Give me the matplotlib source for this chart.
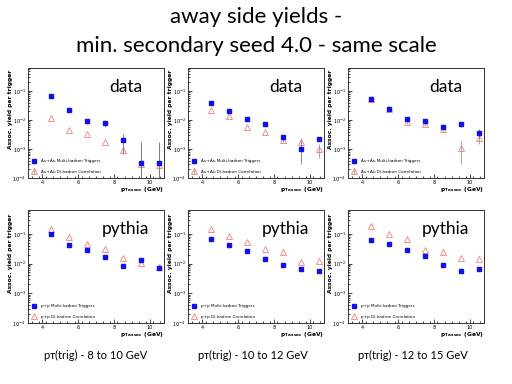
import numpy as np
import matplotlib
matplotlib.use("Agg")
import matplotlib.pyplot as plt
from matplotlib.ticker import LogLocator, NullFormatter, FixedLocator

# ---- data ----
pt_assoc = [4.5, 5.5, 6.5, 7.5, 8.5, 9.5, 10.5]

# top row: Au+Au (data)
auau_multi = [
    [0.066, 0.023, 0.0091, 0.0079, 0.0020, 0.00032, 0.00032],
    [0.040, 0.021, 0.0107, 0.0072, 0.0026, 0.0010, 0.0023],
    [0.052, 0.025, 0.0110, 0.0093, 0.0060, 0.0074, 0.0036],
]
auau_multi_err = [
    [0.0, 0.0, 0.002, 0.002, 0.0013, 0.0014, 0.0014],
    [0.0, 0.0, 0.0, 0.0, 0.0005, 0.0007, 0.0004],
    [0.0, 0.0, 0.0015, 0.0012, 0.001, 0.0015, 0.0012],
]
auau_di = [
    [0.0117, 0.0046, 0.0033, 0.0017, 0.00095, 0.00030, 0.00028],
    [0.023, 0.0135, 0.0058, 0.0039, 0.0020, 0.0017, 0.00098],
    [0.052, 0.025, 0.0083, 0.0072, 0.0048, 0.0011, 0.0025],
]
auau_di_err = [
    [0.0, 0.0, 0.0, 0.0, 0.0002, 0.0014, 0.0014],
    [0.0, 0.0, 0.0, 0.0, 0.0003, 0.0008, 0.0005],
    [0.0, 0.0, 0.001, 0.001, 0.0008, 0.0008, 0.001],
]

# bottom row: p+p (pythia)
pp_multi = [
    [0.095, 0.043, 0.0275, 0.0166, 0.0083, 0.0132, 0.0069],
    [0.069, 0.043, 0.027, 0.0141, 0.0091, 0.0063, 0.0056],
    [0.063, 0.044, 0.029, 0.0178, 0.0091, 0.0056, 0.0066],
]
pp_di = [
    [0.148, 0.079, 0.046, 0.031, 0.0151, 0.0107, 0.0079],
    [0.148, 0.087, 0.051, 0.031, 0.025, 0.0115, 0.0117],
    [0.19, 0.102, 0.066, 0.0275, 0.024, 0.0148, 0.0141],
]

trig_labels = ["8 to 10 GeV", "10 to 12 GeV", "12 to 15 GeV"]
title_lines = ["away side yields -", "min. secondary seed 4.0 - same scale"]
row_tags = ["data", "pythia"]
leg_top = ["Au+Au Multi-hadron Triggers", "Au+Au Di-hadron Correlation"]
leg_bot = ["p+p Multi-hadron Triggers", "p+p Di-hadron Correlation"]
xticks = [4, 6, 8, 10]

BLUE = "#1010ee"
RED = "#ee8080"
FONT = ["Lato", "DejaVu Sans"]

fig = plt.figure(figsize=(5.12, 3.84), dpi=100)
W, H = 512.0, 384.0

lefts = [28, 188, 348]
caption_centers = [96, 253, 413]
rows = [(68, 178), (210, 323)]
width = 136


def style_axes(ax):
    ax.set_yscale("log")
    ax.set_xlim(3.2, 10.8)
    ax.set_ylim(1e-4, 10 ** -0.2)
    ax.xaxis.set_major_locator(FixedLocator(xticks))
    ax.xaxis.set_minor_locator(FixedLocator(np.arange(3.4, 10.81, 0.4)))
    ax.yaxis.set_major_locator(LogLocator(base=10, numticks=10))
    ax.yaxis.set_minor_locator(LogLocator(base=10, subs=np.arange(2, 10), numticks=10))
    ax.yaxis.set_minor_formatter(NullFormatter())
    ax.tick_params(which="both", direction="in", top=False, right=False,
                   labelsize=3.6, pad=1.5, width=0.5)
    ax.tick_params(which="major", length=3)
    ax.tick_params(which="minor", length=1.5)
    for s in ax.spines.values():
        s.set_linewidth(0.7)
        s.set_color("#333333")
    ax.set_ylabel("Assoc. yield per trigger", fontsize=4.3, fontweight="bold",
                  labelpad=2)
    ax.yaxis.set_label_coords(-0.11, 0.62)
    ax.text(1.0, -0.065, r"$\mathbf{p_{T\,assoc}}$ (GeV)", transform=ax.transAxes,
            ha="right", va="top", fontsize=4.3, fontweight="bold")


for r, (ytop, ybot) in enumerate(rows):
    for c, lx in enumerate(lefts):
        ax = fig.add_axes([lx / W, 1 - ybot / H, width / W, (ybot - ytop) / H])
        style_axes(ax)
        if r == 0:
            m, me = auau_multi[c], auau_multi_err[c]
            d, de = auau_di[c], auau_di_err[c]
            labs = leg_top
        else:
            m, me = pp_multi[c], None
            d, de = pp_di[c], None
            labs = leg_bot
        ax.errorbar(pt_assoc, d, yerr=de, fmt="^", ms=4.2, mfc="none",
                    mec=RED, mew=0.6, ecolor="#999999", elinewidth=0.6,
                    capsize=0, label=labs[1], zorder=2)
        ax.errorbar(pt_assoc, m, yerr=me, fmt="s", ms=3.4, mfc=BLUE,
                    mec=BLUE, ecolor="#777777", elinewidth=0.6, capsize=0,
                    label=labs[0], zorder=3)
        h, l = ax.get_legend_handles_labels()
        ax.legend(h[::-1], l[::-1], loc="lower left", fontsize=3.0,
                  frameon=False, handlelength=1.0, handletextpad=1.2,
                  labelspacing=1.6, bbox_to_anchor=(0.0, 0.0), borderaxespad=0.6)
        ax.text(0.72, 0.83, row_tags[r], transform=ax.transAxes, ha="center",
                va="center", fontsize=12.5, family=FONT)

# titles
fig.text(0.5, 1 - 17 / H, title_lines[0], ha="center", va="center",
         fontsize=16, family=FONT)
fig.text(0.5, 1 - 46 / H, title_lines[1], ha="center", va="center",
         fontsize=16, family=FONT)

# captions
for c, cx in enumerate(caption_centers):
    fig.text(cx / W, 1 - 355 / H, "p\u1d1b(trig) - " + trig_labels[c], ha="center",
             va="center", fontsize=8, family=FONT)

fig.savefig("out.png", dpi=100)
